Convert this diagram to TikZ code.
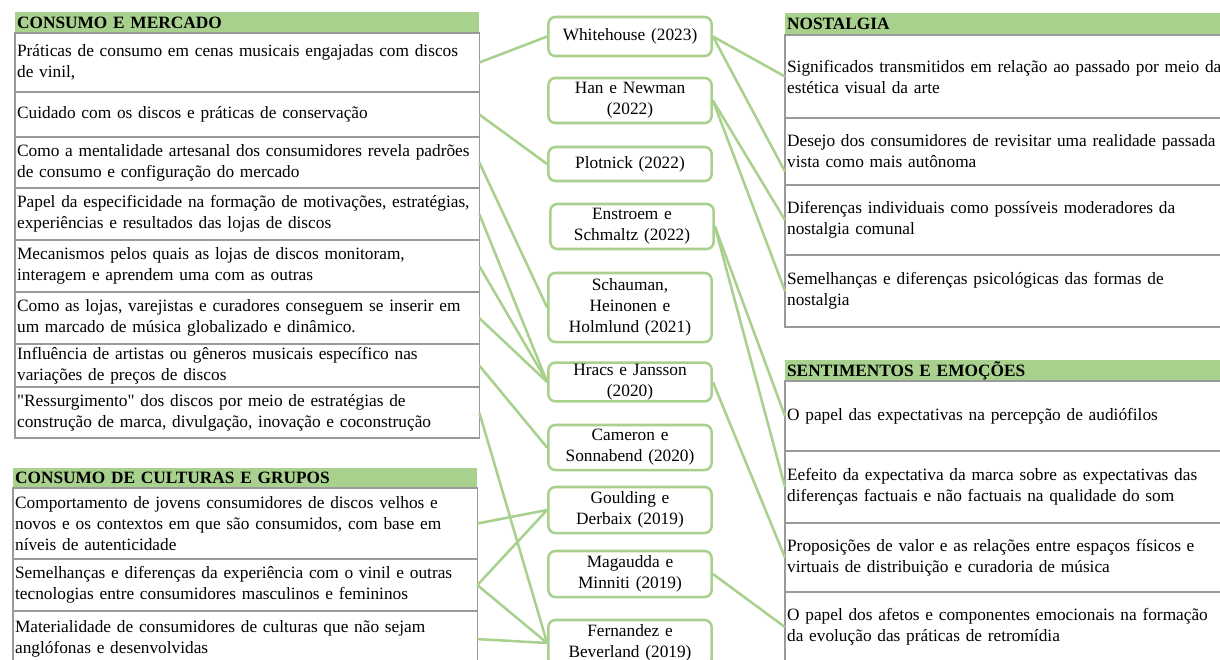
\documentclass[tikz,border=0pt]{standalone}
\usepackage{fontspec}
\setmainfont{Liberation Serif}
\newfontfamily\semmapa{Liberation Serif}
\usepackage{xcolor}
\usetikzlibrary{positioning}

\definecolor{verde}{HTML}{A9D18E}
\definecolor{cinza}{HTML}{9A9A9A}

\begin{document}
\begin{tikzpicture}[
    x=0.025cm, y=-0.025cm,
    font=\fontsize{12.3}{14.9}\selectfont,
    cabecalho/.style={
        fill=verde,
        anchor=north west,
        inner xsep=1.5pt,
        inner ysep=0pt,
        outer sep=0pt,
        align=left,
        minimum height=#1,
        font=\fontsize{12.3}{14.9}\selectfont\bfseries
    },
    linha/.style={
        draw=cinza,
        line width=0.9pt,
        inner xsep=1.5pt,
        inner ysep=1pt,
        outer sep=0pt,
        align=left,
        minimum height=#1
    },
    esq/.style={text width=11.5cm},
    dir/.style={text width=11.65cm},
    ref/.style={
        draw=verde,
        line width=1.8pt,
        rounded corners=5pt,
        fill=white,
        align=center,
        text width=3.7cm,
        inner xsep=0.19cm,
        inner ysep=1pt,
        minimum height=#1
    },
    liga/.style={draw=verde, line width=1.8pt}
]

\useasboundingbox (0,0) rectangle (1220,659);
\fill[white] (0,0) rectangle (1220,659);

% consumo e mercado
\node[cabecalho=0.525cm, esq] (cm) at (15,12) {CONSUMO E MERCADO};
\node[linha=1.475cm, esq, below=0pt of cm] (cm1) {Práticas de consumo em cenas musicais engajadas com discos\\de vinil,};
\node[linha=1.125cm, esq, below=0pt of cm1] (cm2) {Cuidado com os discos e práticas de conservação};
\node[linha=1.275cm, esq, below=0pt of cm2] (cm3) {Como a mentalidade artesanal dos consumidores revela padrões\\de consumo e configuração do mercado};
\node[linha=1.3cm, esq, below=0pt of cm3] (cm4) {Papel da especificidade na formação de motivações, estratégias,\\experiências e resultados das lojas de discos};
\node[linha=1.3cm, esq, below=0pt of cm4] (cm5) {Mecanismos pelos quais as lojas de discos monitoram,\\interagem e aprendem uma com as outras};
\node[linha=1.3cm, esq, below=0pt of cm5] (cm6) {Como as lojas, varejistas e curadores conseguem se inserir em\\um marcado de música globalizado e dinâmico.};
\node[linha=1.075cm, esq, below=0pt of cm6] (cm7) {Influência de artistas ou gêneros musicais específico nas\\variações de preços de discos};
\node[linha=1.275cm, esq, below=0pt of cm7] (cm8) {{\semmapa"}Ressurgimento{\semmapa"} dos discos por meio de estratégias de\\construção de marca, divulgação, inovação e coconstrução};

% consumo de culturas e grupos
\node[cabecalho=0.5cm, esq] (cg) at (13,468) {CONSUMO DE CULTURAS E GRUPOS};
\node[linha=1.775cm, esq, below=0pt of cg] (cg1) {Comportamento de jovens consumidores de discos velhos e\\novos e os contextos em que são consumidos, com base em\\níveis de autenticidade};
\node[linha=1.3cm, esq, below=0pt of cg1] (cg2) {Semelhanças e diferenças da experiência com o vinil e outras\\tecnologias entre consumidores masculinos e femininos};
\node[linha=1.4cm, esq, below=0pt of cg2] (cg3) {Materialidade de consumidores de culturas que não sejam\\anglófonas e desenvolvidas};

% nostalgia
\node[cabecalho=0.55cm, dir] (no) at (785,13) {NOSTALGIA};
\node[linha=2.075cm, dir, below=0pt of no] (no1) {Significados transmitidos em relação ao passado por meio da\\estética visual da arte};
\node[linha=1.675cm, dir, below=0pt of no1] (no2) {Desejo dos consumidores de revisitar uma realidade passada\\vista como mais autônoma};
\node[linha=1.75cm, dir, below=0pt of no2] (no3) {Diferenças individuais como possíveis moderadores da\\nostalgia comunal};
\node[linha=1.8cm, dir, below=0pt of no3] (no4) {Semelhanças e diferenças psicológicas das formas de\\nostalgia};

% sentimentos e emocoes
\node[cabecalho=0.525cm, dir] (se) at (785,360) {SENTIMENTOS E EMOÇÕES};
\node[linha=1.75cm, dir, below=0pt of se] (se1) {O papel das expectativas na percepção de audiófilos};
\node[linha=1.8cm, dir, below=0pt of se1] (se2) {Eefeito da expectativa da marca sobre as expectativas das\\diferenças factuais e não factuais na qualidade do som};
\node[linha=1.725cm, dir, below=0pt of se2] (se3) {Proposições de valor e as relações entre espaços físicos e\\virtuais de distribuição e curadoria de música};
\node[linha=1.75cm, dir, below=0pt of se3] (se4) {O papel dos afetos e componentes emocionais na formação\\da evolução das práticas de retromídia};

% referencias
\node[ref=0.975cm] (whitehouse) at (630,36.5) {Whitehouse (2023)};
\node[ref=1.125cm] (han) at (630,100.5) {Han e Newman\\(2022)};
\node[ref=0.85cm] (plotnick) at (630,164) {Plotnick (2022)};
\node[ref=1.125cm] (enstroem) at (632,226.5) {Enstroem e\\Schmaltz (2022)};
\node[ref=1.725cm] (schauman) at (630,307.5) {Schauman,\\Heinonen e\\Holmlund (2021)};
\node[ref=0.95cm] (hracs) at (630,382) {Hracs e Jansson\\(2020)};
\node[ref=1.125cm] (cameron) at (630,447.5) {Cameron e\\Sonnabend (2020)};
\node[ref=1.15cm] (goulding) at (630,510) {Goulding e\\Derbaix (2019)};
\node[ref=1.15cm] (magaudda) at (630,574) {Magaudda e\\Minniti (2019)};
\node[ref=1.15cm] (fernandez) at (630,643) {Fernandez e\\Beverland (2019)};

\draw[liga] (cm1.east) -- (whitehouse.west);
\draw[liga] (cm2.east) -- (plotnick.west);
\draw[liga] (cm3.east) -- (schauman.west);
\draw[liga] (cm4.east) -- (hracs.west);
\draw[liga] (cm5.east) -- (hracs.west);
\draw[liga] (cm6.east) -- (hracs.west);
\draw[liga] (cm7.east) -- (cameron.west);
\draw[liga] (cm8.east) -- (fernandez.west);
\draw[liga] (cg1.east) -- (goulding.west);
\draw[liga] (cg2.east) -- (goulding.west);
\draw[liga] (cg2.east) -- (fernandez.west);
\draw[liga] (cg3.east) -- (fernandez.west);
\draw[liga] (whitehouse.east) -- (no1.west);
\draw[liga] (whitehouse.east) -- ([yshift=-0.5cm]no2.west);
\draw[liga] (han.east) -- (no3.west);
\draw[liga] (han.east) -- (no4.west);
\draw[liga] (enstroem.east) -- (se1.west);
\draw[liga] (enstroem.east) -- (se2.west);
\draw[liga] (hracs.east) -- (se3.west);
\draw[liga] (magaudda.east) -- (se4.west);

\end{tikzpicture}
\end{document}
